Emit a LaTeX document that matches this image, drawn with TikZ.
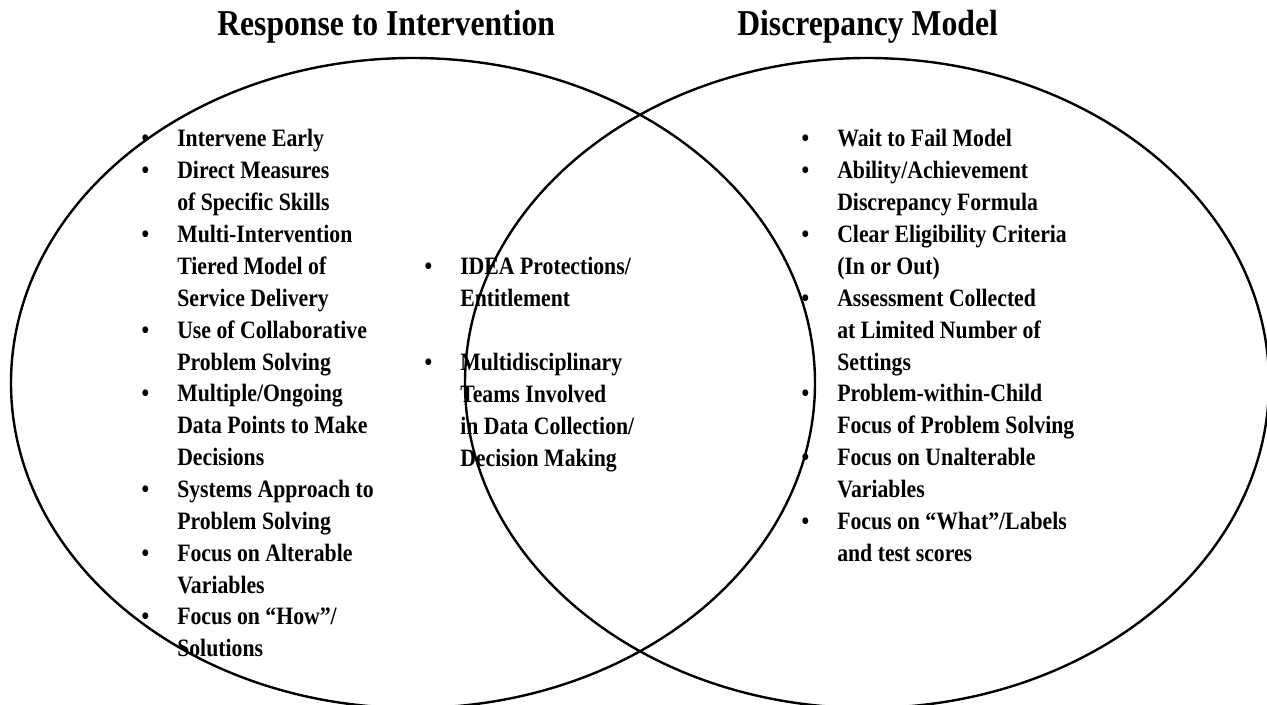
\documentclass[tikz,border=0pt]{standalone}
\usepackage{fontspec}
\setmainfont{Liberation Serif}[FakeStretch=0.87]
\newcommand\itm{\llap{\textbullet\hspace{21pt}}}
\begin{document}
\begin{tikzpicture}[x=0.75pt, y=-0.75pt, line join=round, line cap=round,
	ring/.style={line width=1.8pt},
	heading/.style={font=\fontsize{27.3}{32}\selectfont\bfseries, anchor=base west, inner sep=0pt},
	listcol/.style={font=\fontsize{18.75}{23.9}\selectfont\bfseries, anchor=base west, inner sep=0pt}]
	\useasboundingbox (0,0) rectangle (1267,705);
	\clip (0,0) rectangle (1267,705);
	% the two circles
	\draw[ring] (413,383) ellipse [x radius=402, y radius=325];
	\draw[ring] (867,383) ellipse [x radius=402, y radius=325];
	% headings
	\node[heading] (rti) at (217,36) {Response to Intervention};
	\node[heading] (dm) at (737,36) {Discrepancy Model};
	% left list
	\node[listcol] (left) at (177,147) {\begin{tabular}[t]{@{}l@{}}
		\itm Intervene Early\\
		\itm Direct Measures\\
		of Specific Skills\\
		\itm Multi-Intervention\\
		Tiered Model of\\
		Service Delivery\\
		\itm Use of Collaborative\\
		Problem Solving\\
		\itm Multiple/Ongoing\\
		Data Points to Make\\
		Decisions\\
		\itm Systems Approach to\\
		Problem Solving\\
		\itm Focus on Alterable\\
		Variables\\
		\itm Focus on ``How''/\\
		Solutions
	\end{tabular}};
	% shared list
	\node[listcol] (mid) at (460,275) {\begin{tabular}[t]{@{}l@{}}
		\itm IDEA Protections/\\
		Entitlement\\[23.9pt]
		\itm Multidisciplinary\\
		Teams Involved\\
		in Data Collection/\\
		Decision Making
	\end{tabular}};
	% right list
	\node[listcol] (right) at (837,147) {\begin{tabular}[t]{@{}l@{}}
		\itm Wait to Fail Model\\
		\itm Ability/Achievement\\
		Discrepancy Formula\\
		\itm Clear Eligibility Criteria\\
		(In or Out)\\
		\itm Assessment Collected\\
		at Limited Number of\\
		Settings\\
		\itm Problem-within-Child\\
		Focus of Problem Solving\\
		\itm Focus on Unalterable\\
		Variables\\
		\itm Focus on ``What''/Labels\\
		and test scores
	\end{tabular}};
\end{tikzpicture}
\end{document}
